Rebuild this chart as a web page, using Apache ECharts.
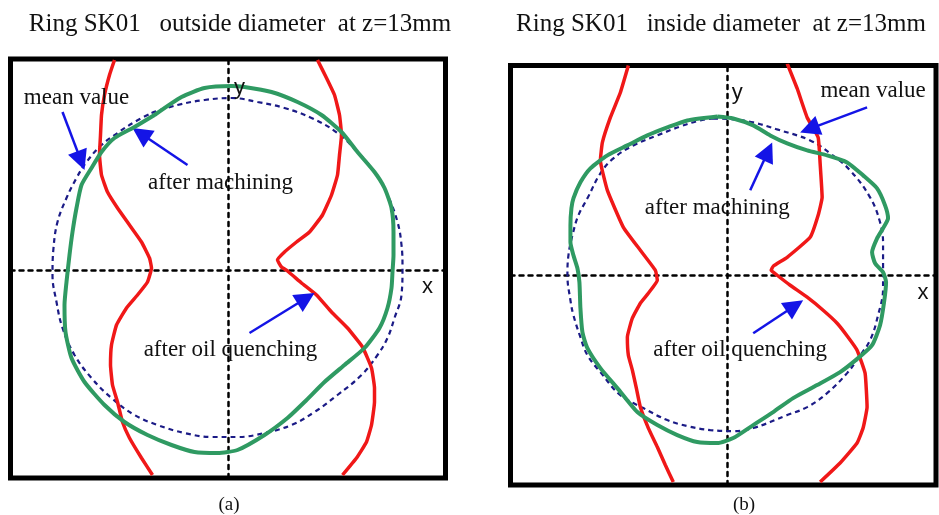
<!DOCTYPE html>
<html>
<head>
<meta charset="utf-8">
<script src="https://cdn.jsdelivr.net/npm/echarts@6/dist/echarts.min.js"></script>
<style>
  html, body { margin: 0; padding: 0; background: #fff; }
  #chart { width: 939px; height: 515px; }
</style>
</head>
<body>
<div id="chart"></div>
<script>
// Ring SK01 roundness profiles at z = 13 mm (magnified radial deviation, plot units).
// Each profile is a list of [x, y] points; closed profiles repeat their first point.

// (a) outside diameter
const odMeanValue = [
  [-77,157],[-51,165],[-24,170],[3,172],[29,168],[56,162],[83,152],[109,137],[129,118],[146,98],
  [159,75],[169,48],[173,25],[174,2],[173,-25],[166,-48],[159,-68],[149,-85],[133,-105],[109,-125],
  [86,-142],[63,-155],[36,-163],[9,-167],[-17,-167],[-44,-163],[-71,-155],[-94,-145],[-117,-128],
  [-137,-108],[-154,-85],[-166,-58],[-172,-32],[-176,-5],[-175,22],[-171,48],[-162,72],[-152,92],
  [-142,108],[-127,125],[-111,137],[-94,148],[-77,157]
];
const odAfterMachining = [
  [-74,155],[-47,173],[-24,182],[3,184],[16,183],[43,178],[69,168],[93,155],[113,138],[129,118],
  [146,98],[156,82],[163,62],[165,38],[165,15],[164,-2],[163,-18],[159,-38],[151,-58],[136,-78],
  [116,-95],[96,-112],[76,-132],[59,-148],[36,-165],[9,-180],[-11,-183],[-34,-182],[-57,-175],
  [-81,-165],[-104,-152],[-124,-135],[-144,-112],[-157,-88],[-163,-62],[-164,-35],[-162,-12],
  [-159,15],[-156,38],[-152,62],[-147,85],[-137,102],[-127,118],[-114,132],[-94,143],[-74,155]
];
const odQuenchedLeft = [
  [-114,210],[-119,195],[-124,175],[-127,155],[-128,135],[-129,115],[-127,95],[-121,78],[-111,62],
  [-99,45],[-87,28],[-79,12],[-77,2],[-81,-12],[-91,-25],[-102,-38],[-112,-55],[-117,-75],[-118,-95],
  [-116,-115],[-111,-132],[-106,-152],[-99,-168],[-87,-188],[-76,-205]
];
const odQuenchedRight = [
  [89,210],[98,192],[106,175],[111,155],[113,135],[111,115],[109,95],[103,75],[94,55],[81,38],
  [68,28],[56,18],[49,10],[53,3],[59,-1],[73,-13],[88,-25],[103,-42],[119,-58],[134,-77],[143,-98],
  [146,-118],[146,-132],[143,-155],[138,-172],[128,-188],[114,-205]
];

// (b) inside diameter
const idMeanValue = [
  [-14,157],[6,156],[26,153],[50,146],[83,135],[103,122],[123,105],[143,78],[153,53],[156,32],
  [156,8],[156,-13],[151,-40],[143,-65],[131,-83],[120,-98],[100,-118],[80,-132],[60,-140],[26,-153],
  [6,-156],[-17,-155],[-40,-151],[-60,-145],[-84,-133],[-107,-120],[-127,-97],[-140,-80],[-147,-62],
  [-154,-40],[-157,-25],[-160,0],[-159,20],[-155,40],[-149,60],[-140,77],[-127,102],[-114,117],
  [-94,130],[-70,140],[-47,149],[-27,155],[-14,157]
];
const idAfterMachining = [
  [-10,159],[6,157],[26,150],[43,140],[60,132],[80,125],[100,120],[120,113],[136,100],[150,87],
  [158,70],[161,57],[156,47],[150,37],[145,23],[148,12],[156,3],[159,-7],[157,-27],[153,-50],
  [145,-70],[131,-83],[113,-97],[90,-110],[66,-123],[46,-137],[26,-150],[6,-163],[-10,-168],
  [-30,-167],[-50,-160],[-70,-150],[-90,-137],[-110,-113],[-127,-93],[-140,-73],[-145,-57],
  [-147,-33],[-148,-7],[-150,7],[-154,20],[-157,33],[-157,50],[-156,67],[-154,77],[-147,93],
  [-137,107],[-120,120],[-100,130],[-80,140],[-60,148],[-40,155],[-10,159]
];
const idQuenchedLeft = [
  [-99,210],[-107,183],[-117,158],[-125,133],[-127,115],[-120,85],[-104,48],[-87,25],[-72,5],
  [-70,-5],[-79,-18],[-87,-28],[-95,-43],[-100,-62],[-99,-80],[-95,-95],[-91,-113],[-87,-132],
  [-79,-153],[-70,-172],[-62,-190],[-54,-207]
];
const idQuenchedRight = [
  [60,212],[70,187],[80,158],[91,138],[93,112],[95,78],[91,60],[83,38],[60,18],[46,9],[44,5],
  [50,0],[63,-10],[80,-22],[96,-35],[110,-48],[121,-62],[130,-75],[138,-98],[140,-132],[136,-153],
  [130,-168],[113,-188],[93,-207]
];

const panelTitles = ['Ring SK01   outside diameter  at z=13mm', 'Ring SK01   inside diameter  at z=13mm'];
const panelCaptions = ['(a)', '(b)'];
const curveNames = ['mean value', 'after machining', 'after oil quenching'];

// ---- styling / layout ----
const SERIF = '"Liberation Serif", "Times New Roman", serif';
const SANS = '"Liberation Sans", Arial, sans-serif';
const GREEN = '#2f9a62';
const RED = '#f01818';
const NAVY = '#1b1b86';
const ARROW = '#1414e6';

const panels = [
  {
    grid: { left: 10.5, top: 59, width: 435, height: 419 },
    xRange: [-218, 217], yRange: [-208, 211],
    mean: odMeanValue, machined: odAfterMachining, quenched: [odQuenchedLeft, odQuenchedRight],
    labels: [[-152, 172], [-8, 87], [2, -80]],
    arrows: [[[-166, 158], [-144, 100]], [[-41, 105], [-96, 142]], [[21, -63], [86, -23]]],
    axisNames: { x: [199, -17], y: [11, 182] },
    titleX: 240, captionX: 229
  },
  {
    grid: { left: 510.5, top: 65.5, width: 425.5, height: 419.5 },
    xRange: [-217, 209], yRange: [-210, 210],
    mean: idMeanValue, machined: idAfterMachining, quenched: [idQuenchedLeft, idQuenchedRight],
    labels: [[146, 185], [-10, 67], [13, -75]],
    arrows: [[[140, 168], [73, 143]], [[23, 85], [45, 133]], [[26, -58], [76, -25]]],
    axisNames: { x: [196, -18], y: [10, 183] },
    titleX: 721, captionX: 744
  }
];

const HEAD = 20; // arrow head size (px == plot units here)

// pull the line end back so the triangle's tip lands on the target point
function arrowLine(from, tip) {
  const dx = tip[0] - from[0], dy = tip[1] - from[1];
  const len = Math.hypot(dx, dy);
  const end = [tip[0] - dx / len * HEAD / 2, tip[1] - dy / len * HEAD / 2];
  return [{ coord: from, symbol: 'none' }, { coord: end, symbol: 'triangle', symbolSize: HEAD }];
}

const grids = [], xAxes = [], yAxes = [], series = [], graphics = [];
const dotted = { color: '#000', width: 2.5, type: [4, 5] };

panels.forEach((p, i) => {
  grids.push(Object.assign({ show: true, borderColor: '#000', borderWidth: 5, backgroundColor: 'transparent' }, p.grid));
  xAxes.push({
    gridIndex: i, type: 'value', min: p.xRange[0], max: p.xRange[1],
    axisLine: { show: true, onZero: true, lineStyle: dotted },
    axisTick: { show: false }, axisLabel: { show: false }, splitLine: { show: false }
  });
  yAxes.push({
    gridIndex: i, type: 'value', min: p.yRange[0], max: p.yRange[1],
    axisLine: { show: true, onZero: true, lineStyle: dotted },
    axisTick: { show: false }, axisLabel: { show: false }, splitLine: { show: false }
  });

  const base = { type: 'line', xAxisIndex: i, yAxisIndex: i, showSymbol: false, symbol: 'none', silent: true, animation: false };
  series.push(Object.assign({}, base, {
    name: curveNames[0], data: p.mean, smooth: 0.4, z: 3,
    lineStyle: { color: NAVY, width: 2.2, type: [5, 4] }
  }));
  p.quenched.forEach(seg => series.push(Object.assign({}, base, {
    name: curveNames[2], data: seg, smooth: 0.12, z: 4,
    lineStyle: { color: RED, width: 3.5 }
  })));
  series.push(Object.assign({}, base, {
    name: curveNames[1], data: p.machined, smooth: 0.2, z: 5,
    lineStyle: { color: GREEN, width: 4 }
  }));

  const plainLabel = { show: true, position: 'inside', formatter: '{b}', textBorderWidth: 0, textBorderColor: 'transparent', textShadowBlur: 0 };
  const hiddenMarker = { color: 'transparent', opacity: 1 };

  // annotation texts + arrows
  series.push({
    type: 'scatter', xAxisIndex: i, yAxisIndex: i, symbolSize: 0, silent: true, animation: false, z: 6,
    itemStyle: hiddenMarker,
    data: p.labels.map((c, k) => ({ value: c, name: curveNames[k] })),
    label: Object.assign({ fontFamily: SERIF, fontSize: 23, color: '#111' }, plainLabel),
    markLine: {
      silent: true, animation: false,
      symbol: ['none', 'triangle'], symbolSize: HEAD,
      lineStyle: { color: ARROW, width: 2.5, type: 'solid', opacity: 1 },
      itemStyle: { color: ARROW, opacity: 1 },
      emphasis: { disabled: true },
      label: { show: false },
      data: p.arrows.map(a => arrowLine(a[0], a[1]))
    }
  });
  // axis letters
  series.push({
    type: 'scatter', xAxisIndex: i, yAxisIndex: i, symbolSize: 0, silent: true, animation: false, z: 6,
    itemStyle: hiddenMarker,
    data: [{ value: p.axisNames.x, name: 'x' }, { value: p.axisNames.y, name: 'y' }],
    label: Object.assign({ fontFamily: SANS, fontSize: 22, color: '#111' }, plainLabel)
  });

  graphics.push({
    type: 'text', x: p.titleX, y: 24, silent: true,
    style: { text: panelTitles[i], fontFamily: SERIF, fontSize: 25, fill: '#111', align: 'center', verticalAlign: 'middle' }
  });
  graphics.push({
    type: 'text', x: p.captionX, y: 505, silent: true,
    style: { text: panelCaptions[i], fontFamily: SERIF, fontSize: 19, fill: '#111', align: 'center', verticalAlign: 'middle' }
  });
});

const chart = echarts.init(document.getElementById('chart'), null, { renderer: 'canvas' });
chart.setOption({
  animation: false,
  backgroundColor: '#fff',
  grid: grids, xAxis: xAxes, yAxis: yAxes,
  series: series,
  graphic: graphics
});
</script>
</body>
</html>
